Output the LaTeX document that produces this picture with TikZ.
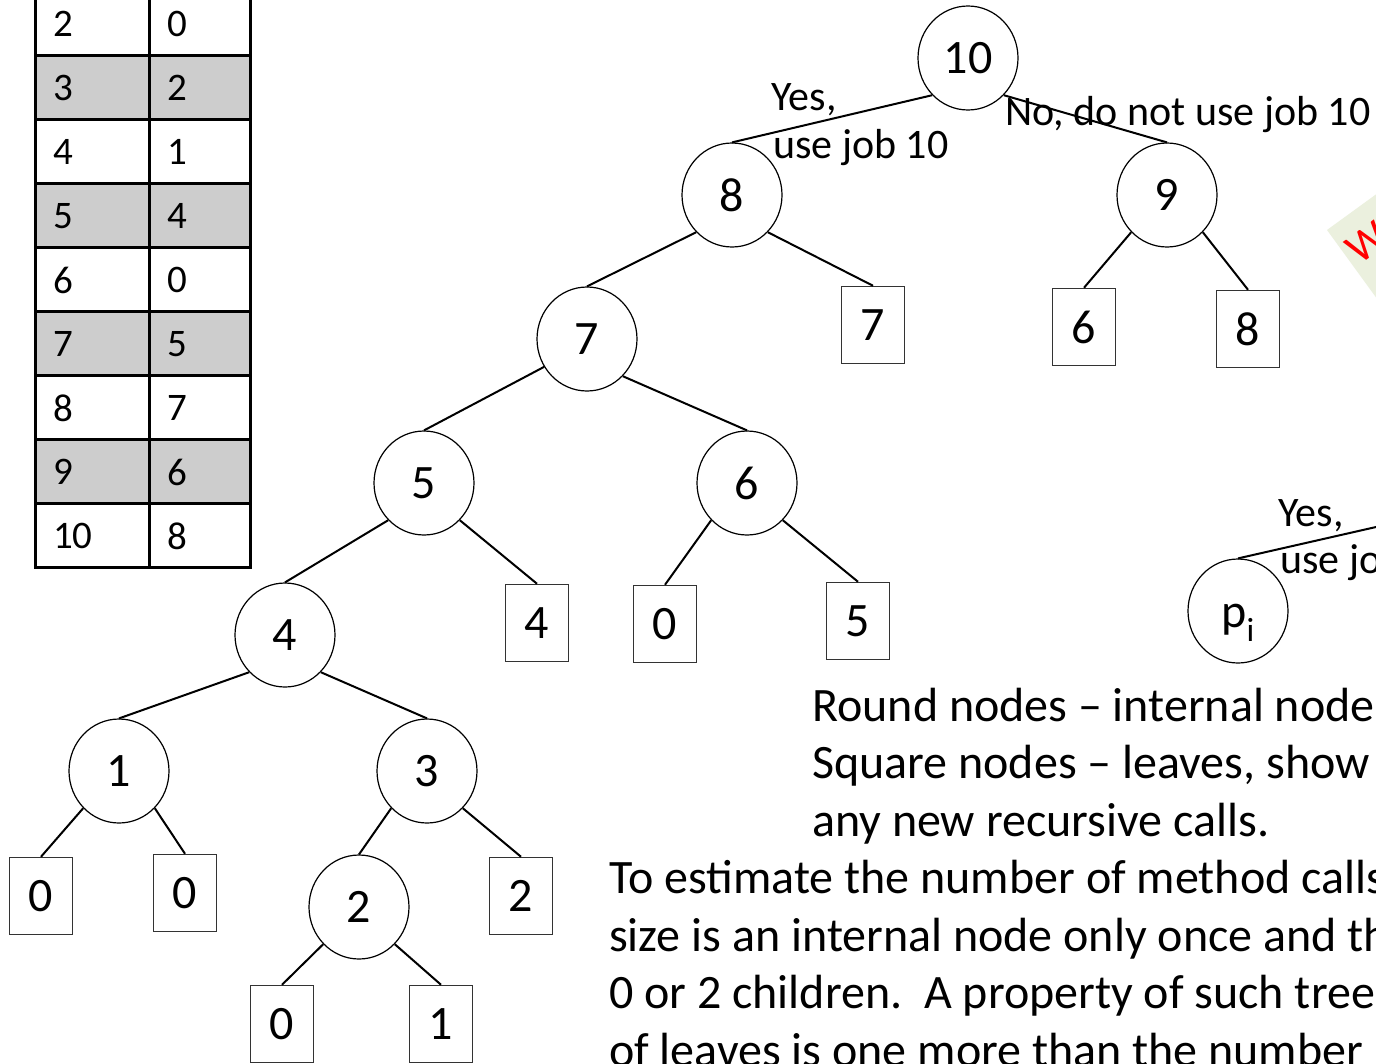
\documentclass[tikz,border=0pt]{standalone}
\usepackage{fontspec}
\setmainfont{Carlito}
\usetikzlibrary{shapes.geometric}
\definecolor{notegreen}{RGB}{235,240,222}
\definecolor{rowgrey}{RGB}{205,205,205}
\begin{document}
\begin{tikzpicture}[x=1pt,y=-1pt,
  inode/.style={ellipse,draw=black,line width=1.2pt,minimum width=100pt,minimum height=104pt,inner sep=0pt,font=\fontsize{48}{48}\selectfont},
  leaf/.style={rectangle,draw=black!80,line width=1.5pt,minimum width=63pt,minimum height=77pt,inner sep=0pt,font=\fontsize{48}{48}\selectfont},
  link/.style={line width=2pt,black},
  lbl/.style={font=\fontsize{42}{48}\selectfont,inner sep=0pt,anchor=base west},
  body/.style={font=\fontsize{48}{57}\selectfont,inner sep=0pt,anchor=base west},
  cell/.style={font=\fontsize{39}{39}\selectfont,inner sep=0pt,anchor=west},
  tline/.style={line width=3pt,black}
]
\useasboundingbox (0,0) rectangle (1376,1063);
\clip (0,0) rectangle (1376,1063);
\fill[white] (0,0) rectangle (1376,1063);

% sticky note (rotated)
\fill[notegreen] (1327,230) -- ++(242.7,-176.4) -- ++(176.4,242.7) -- ++(-242.7,176.4) -- cycle;
\node[text=red,font=\fontsize{44}{44}\selectfont,rotate=36,inner sep=0pt] (noteW) at (1367,243) {W};

% table
\foreach \a/\b [count=\i from 0] in {2/0,3/2,4/1,5/4,6/0,7/5,8/7,9/6,10/8}{
  \ifodd\i
    \fill[rowgrey] (35,{-9+64*\i}) rectangle (250,{55+64*\i});
  \fi
  \node[cell] (ta\i) at (53,{24+64*\i}) {\a};
  \node[cell] (tb\i) at (167,{24+64*\i}) {\b};
}
\foreach \k in {1,...,8}{
  \draw[tline] (35,{-9+64*\k}) -- (250,{-9+64*\k});
}
\draw[tline] (149,-9) -- (149,567);
\draw[tline] (35,-9) rectangle (250,567);

% internal nodes
\node[inode] (n10) at (968,58) {10};
\node[inode] (n8) at (732,195) {8};
\node[inode] (n9) at (1167,195) {9};
\node[inode] (n7) at (587,339) {7};
\node[inode] (n5) at (424,483) {5};
\node[inode] (n6) at (747,483) {6};
\node[inode] (n4) at (285,635) {4};
\node[inode] (n1) at (119,771) {1};
\node[inode] (n3) at (427,771) {3};
\node[inode] (n2) at (359,907) {2};
\node[inode,text height=32pt,text depth=0pt] (pi) at (1238,611) {p\textsubscript{i}};

% leaves
\node[leaf] (l7) at (873,325) {7};
\node[leaf] (l6) at (1084,327) {6};
\node[leaf] (l8) at (1248,329) {8};
\node[leaf] (l4) at (537,623) {4};
\node[leaf] (l0a) at (665,624) {0};
\node[leaf] (l5) at (858,621) {5};
\node[leaf] (l0b) at (41,896) {0};
\node[leaf] (l0c) at (185,893) {0};
\node[leaf] (l2) at (521,896) {2};
\node[leaf] (l0d) at (282,1024) {0};
\node[leaf] (l1) at (441,1024) {1};

% connectors
\draw[link] (n10.south west) -- (n8.north);
\draw[link] (n10.south east) -- (n9.north);
\draw[link] (n8.south west) -- (n7.north);
\draw[link] (n8.south east) -- (l7.north);
\draw[link] (n9.south west) -- (l6.north);
\draw[link] (n9.south east) -- (l8.north);
\draw[link] (n7.213) -- (n5.north);
\draw[link] (n7.south east) -- (n6.north);
\draw[link] (n5.south west) -- (n4.north);
\draw[link] (n5.south east) -- (l4.north);
\draw[link] (n6.south west) -- (l0a.north);
\draw[link] (n6.south east) -- (l5.north);
\draw[link] (n4.south west) -- (n1.north);
\draw[link] (n4.south east) -- (n3.north);
\draw[link] (n1.south west) -- (l0b.north);
\draw[link] (n1.south east) -- (l0c.north);
\draw[link] (n3.south west) -- (n2.north);
\draw[link] (n3.south east) -- (l2.north);
\draw[link] (n2.south west) -- (l0d.north);
\draw[link] (n2.south east) -- (l1.north);
\coordinate (pend) at (1420,517);
\draw[link] (pi.north) -- (pend);

% edge labels
\node[lbl] (yes1) at (771,110) {Yes,};
\node[lbl] (use1) at (773,158) {use job 10};
\node[lbl] (no1) at (1005,125) {No, do not use job 10};
\node[lbl] (yes2) at (1278,526) {Yes,};
\node[lbl] (use2) at (1280,573) {use jo};

% explanatory text
\node[body] (t1) at (812,721) {Round nodes – internal node};
\node[body] (t2) at (812,778.5) {Square nodes – leaves, show};
\node[body] (t3) at (812,836) {any new recursive calls.};
\node[body] (t4) at (609,893.5) {To estimate the number of method calls};
\node[body] (t5) at (609,951) {size is an internal node only once and th};
\node[body] (t6) at (609,1008.5) {0 or 2 children.\ \ A property of such tree};
\node[body] (t7) at (609,1066) {of leaves is one more than the number};
\end{tikzpicture}
\end{document}
